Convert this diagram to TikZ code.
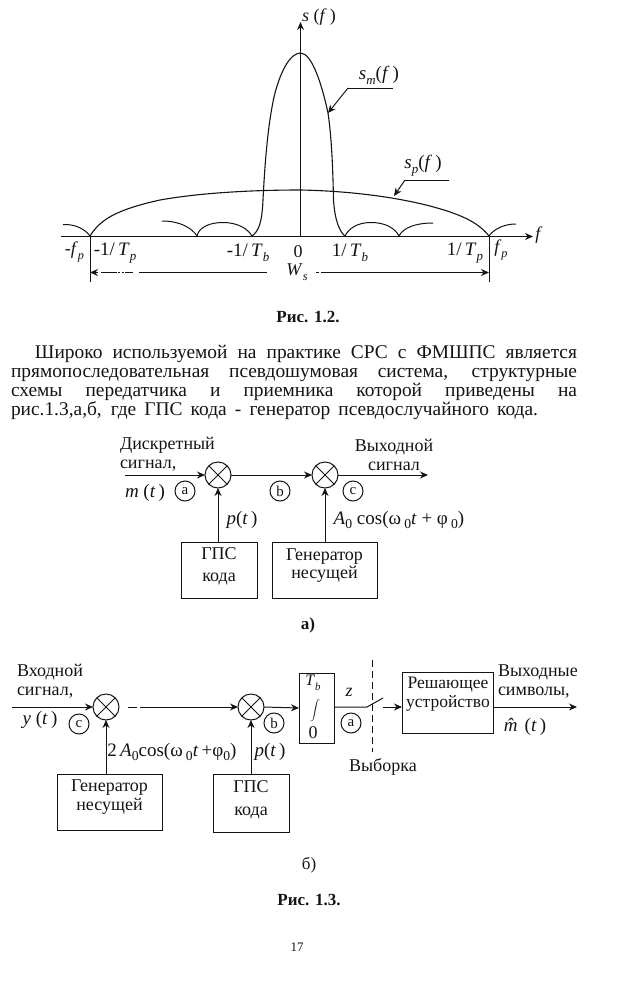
\documentclass[tikz,border=0pt]{standalone}
\usepackage{fontspec}
\usepackage{graphicx}
\setmainfont{Liberation Serif}
\usetikzlibrary{arrows.meta}
\newcommand{\vi}[1]{\textit{#1}}
\newcommand{\lowx}[1]{\raisebox{-0.28em}{\scalebox{0.68}{\textit{#1}}}}
\newcommand{\lown}[1]{\raisebox{-0.22em}{\scalebox{0.72}{#1}}}
\newcommand{\fs}[1]{\fontsize{#1}{#1}\selectfont}
\definecolor{inkc}{gray}{0.08}
\tikzset{
  every node/.style={font=\fontsize{18}{20}\selectfont, inner sep=0pt, outer sep=0pt, text=inkc},
  ln/.style={draw=inkc, line width=1pt},
  arr/.style={ln, -{Stealth[length=8pt,width=7pt]}},
  blockbox/.style={draw=inkc, line width=1pt},
  mult/.style={circle, draw=inkc, line width=1pt, minimum size=26pt},
  tagc/.style={circle, draw=inkc, line width=1pt, minimum size=20pt, font=\fontsize{15}{15}\selectfont},
  lab/.style={align=left, font=\fontsize{18}{19}\selectfont},
  figcap/.style={font=\bfseries\fontsize{17}{19}\selectfont}
}
\newcommand{\crossin}[1]{\draw[ln] (#1.45)--(#1.225) (#1.135)--(#1.315);}
\begin{document}
\begin{tikzpicture}[x=1pt,y=-1pt]
\useasboundingbox (0,0) rectangle (640,990);
% ---- Fig 1.2
\coordinate (axl) at (61,236.5); \coordinate (axr) at (533,236.5);
\coordinate (ayb) at (300.5,236.5); \coordinate (ayt) at (300.5,22);
\draw[arr] (axl)--(axr);
\draw[arr] (ayb)--(ayt);
\draw[ln,line width=1.1pt] (252,236) .. controls (259,231) and (262,222) .. (263,200)
  .. controls (265,160) and (268,125) .. (274,97)
  .. controls (280,72) and (290,53) .. (300.5,53)
  .. controls (312,53) and (322,85) .. (328,113)
  .. controls (332,140) and (333,175) .. (333.5,200)
  .. controls (335,222) and (340,232) .. (345,236);
\draw[ln,line width=1.1pt] (90,236) .. controls (100,220) and (115,210) .. (160,200)
  .. controls (205,192) and (260,190) .. (300.5,190)
  .. controls (350,191) and (395,197) .. (430,206)
  .. controls (460,214) and (478,222) .. (489,236);
\draw[ln] (63,224.5) .. controls (75,224) and (85,229) .. (90,236);
\draw[ln] (489,236) .. controls (494,229) and (504,224) .. (516,224);
\draw[ln] (162,221) .. controls (180,221) and (192,228) .. (197,236);
\draw[ln] (197,236) .. controls (199,227) and (210,222.5) .. (223,222.5)
  .. controls (238,222.5) and (248,229) .. (252,236);
\draw[ln] (345,236) .. controls (349,228) and (358,222.5) .. (371,222.5)
  .. controls (385,222.5) and (395,228) .. (399,236);
\draw[ln] (399,236) .. controls (403,228) and (415,223) .. (433,223);
\coordinate (tl) at (90,236); \coordinate (tlb) at (90,282);
\coordinate (tr) at (489,236); \coordinate (trb) at (489,282);
\draw[ln] (tl)--(tlb); \draw[ln] (tr)--(trb);
\coordinate (wl) at (90,272.5); \coordinate (wr) at (489,272.5);
\coordinate (wl2) at (267,272.5); \coordinate (wr2) at (316,272.5);
\draw[ln,{Stealth[length=8pt,width=7pt]}-] (wl)--(98,272.5);
\draw[ln] (101,272.5)--(117,272.5);
\draw[ln,dash pattern=on 2pt off 1.5pt] (118,272.5)--(124,272.5);
\draw[ln] (125,272.5)--(133,272.5);
\draw[ln] (139,272.5)--(wl2);
\draw[ln,dash pattern=on 3pt off 2pt] (wr2)--(322,272.5);
\draw[arr] (322,272.5)--(wr);
\coordinate (sm1) at (393,88); \coordinate (sm2) at (348,88); \coordinate (sm3) at (328,113);
\draw[ln] (sm1)--(sm2); \draw[arr] (sm2)--(sm3);
\coordinate (sp1) at (449,180); \coordinate (sp2) at (405,180); \coordinate (sp3) at (394,196);
\draw[ln] (sp1)--(sp2); \draw[arr] (sp2)--(sp3);
\node (lsf) at (319,17) {\vi{s} (\vi{f}\,)};
\node (lf) at (539,235) {\vi{f}};
\node (lsm) at (379,75) {\fs{19}\vi{s}\lowx{m}(\vi{f}\,)};
\node (lsp) at (423,166) {\fs{19}\vi{s}\lowx{p}(\vi{f}\,)};
\node (l1) at (74.5,252) {-\vi{f}\lowx{p}};
\node (l2) at (115,253) {\fs{19}-1/\,\vi{T}\lowx{p}};
\node (l3) at (248,253) {\fs{19}-1/\,\vi{T}\lowx{b}};
\node (l4) at (298,252) {0};
\node (l5) at (350,253) {\fs{19}1/\,\vi{T}\lowx{b}};
\node (l6) at (465,253) {\fs{19}1/\,\vi{T}\lowx{p}};
\node (l7) at (501,250) {\vi{f}\lowx{p}};
\node (l8) at (297,272) {\vi{W}\lowx{s}};
\node[figcap] (c12) at (308,317) {Рис. 1.2.};
% ---- paragraph
\node[anchor=north west, align=left, font=\fontsize{19.4}{19}\selectfont] (para) at (11,345)
 {\hspace*{24pt}\makebox[542pt][s]{Широко используемой на практике СРС с ФМШПС является}\\
  \makebox[566pt][s]{прямопоследовательная псевдошумовая система, структурные}\\
  \makebox[566pt][s]{схемы передатчика и приемника которой приведены на}\\
  \makebox[527pt][s]{рис.1.3,а,б, где ГПС кода - генератор псевдослучайного кода.}};
% ---- Fig 1.3 a
\node[mult] (ma1) at (218,475) {}; \crossin{ma1}
\node[mult] (ma2) at (325,475) {}; \crossin{ma2}
\node[blockbox, minimum width=76pt, minimum height=56pt] (gps) at (219,570) {};
\node[blockbox, minimum width=105pt, minimum height=56pt] (gen) at (324.5,570) {};
\node[align=center, font=\fontsize{18}{22}\selectfont] (gpst) at (219,566) {ГПС\\кода};
\node[align=center, font=\fontsize{18}{18}\selectfont] (gent) at (324.5,565.5) {Генератор\\несущей};
\coordinate (ain) at (125,475); \coordinate (aout) at (428,475);
\draw[arr] (ain)--(ma1.west);
\draw[arr] (ma1.east)--(ma2.west);
\draw[arr] (ma2.east)--(aout);
\draw[arr] (gps.north -| ma1)--(ma1.south);
\draw[arr] (gen.north -| ma2)--(ma2.south);
\node[lab,anchor=west] (ta1) at (120,454.5) {Дискретный\\сигнал,};
\node[lab,align=center] (ta2) at (394,454.5) {Выходной\\сигнал};
\node (ta3) at (145,493) {\fs{19}\vi{m} (\vi{t}\,)};
\node[tagc] (ca) at (185,491) {a};
\node[tagc] (cb) at (280,491) {b};
\node[tagc] (cc) at (353,491) {c};
\node (ta4) at (242,520) {\fs{19}\vi{p}(\vi{t}\,)};
\node (ta5) at (399,520) {\fs{19}\vi{A}\lown{0} cos(\char"03C9\,\lown{0}\vi{t} + \char"03C6\,\lown{0})};
\node[figcap] (ca1) at (308,625) {а)};
% ---- Fig 1.3 b
\node[mult] (mb1) at (106,707) {}; \crossin{mb1}
\node[mult] (mb2) at (251,707) {}; \crossin{mb2}
\node[blockbox, minimum width=105pt, minimum height=56pt] (gen2) at (109.5,802) {};
\node[blockbox, minimum width=76pt, minimum height=58pt] (gps2) at (251,803) {};
\node[align=center, font=\fontsize{18}{19}\selectfont] (gen2t) at (109.5,797.5) {Генератор\\несущей};
\node[align=center, font=\fontsize{18}{23}\selectfont] (gps2t) at (251,799.5) {ГПС\\кода};
\node[draw=inkc, line width=1pt, minimum width=35pt, minimum height=70pt] (int) at (316.5,708) {};
\node[blockbox, minimum width=91pt, minimum height=61pt] (dec) at (447.5,702.5) {};
\node[font=\fontsize{17.5}{18.5}\selectfont,align=center] (dect) at (448,694) {Решающее\\устройство};
\coordinate (bin) at (12,707); \coordinate (bout) at (577,707);
\coordinate (d1) at (128,707); \coordinate (d2) at (137,707); \coordinate (d3) at (140,707); \coordinate (d4) at (150,707);
\draw[arr] (bin)--(mb1.west);
\draw[ln] (d1)--(d2); \draw[ln] (d3)--(d4);
\draw[arr] (d4)--(mb2.west);
\draw[arr] (mb2.east)--(int.west);
\coordinate (s1) at (367,707); \coordinate (s2) at (383,698); \coordinate (s3) at (383,707);
\draw[ln] (int.east |- s1)--(s1)--(s2);
\draw[arr] (s3)--(dec.west |- s3);
\draw[arr] (dec.east |- bout)--(bout);
\draw[arr] (gen2.north -| mb1)--(mb1.south);
\draw[arr] (gps2.north -| mb2)--(mb2.south);
\coordinate (v1) at (372,660); \coordinate (v2) at (372,752);
\draw[ln,dash pattern=on 7pt off 4pt] (v1)--(v2);
\node[lab,anchor=west] (tb1) at (17,681) {Входной\\сигнал,};
\node (tb2) at (40,720) {\fs{19}\vi{y} (\vi{t}\,)};
\node[tagc] (cc2) at (79,724) {c};
\node[tagc] (cb2) at (274,723) {b};
\node[tagc] (ca2) at (351,723) {a};
\node (tb3) at (172,752) {\fs{19}2\,\vi{A}\lown{0}cos(\char"03C9\,\lown{0}\vi{t}\,+\char"03C6\lown{0})};
\node (tb4) at (270,752) {\fs{19}\vi{p}(\vi{t}\,)};
\node (tb5) at (313,683) {\fs{16}\vi{T}\lowx{b}};
\node (tb6) at (313,733) {0};
\node (tb7) at (315,711) {\fontsize{11.5}{12}\selectfont$\displaystyle\int$};
\node (tb8) at (349,692) {\vi{z}};
\node (tb9) at (383,767) {Выборка};
\node[lab,anchor=west] (tb10) at (498,681.5) {Выходные\\символы,};
\node (tb11) at (525,727) {\fs{19}\vi{\^{m}}(\vi{t}\,)};
\node[font=\fontsize{17}{19}\selectfont] (cb3) at (309,865) {б)};
\node[figcap] (c13) at (309,900) {Рис. 1.3.};
\node[font=\fontsize{13}{14}\selectfont] (pg) at (297,947) {17};
\end{tikzpicture}
\end{document}
